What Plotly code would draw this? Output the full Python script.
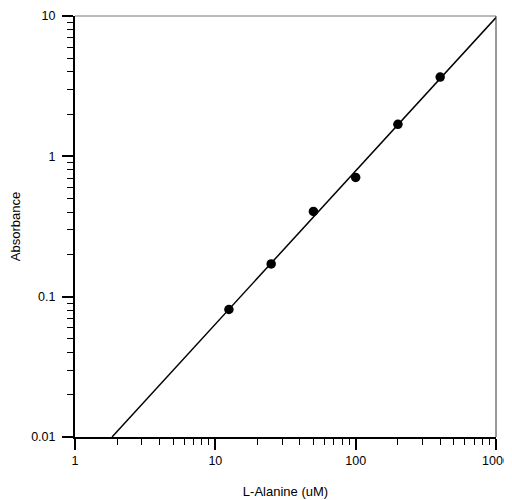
import numpy as np
import plotly.graph_objects as go

# Data
alanine_uM = [12.5, 25, 50, 100, 200, 400]
absorbance = [0.081, 0.171, 0.405, 0.708, 1.69, 3.67]
x_ticks = [1, 10, 100, 1000]
x_ticklabels = ["1", "10", "100", "1000"]
y_ticks = [0.01, 0.1, 1, 10]
y_ticklabels = ["0.01", "0.1", "1", "10"]

# log-log linear fit
slope, intercept = np.polyfit(np.log10(alanine_uM), np.log10(absorbance), 1)
x_start = 10 ** ((np.log10(0.01) - intercept) / slope)
fit_x = np.logspace(np.log10(x_start), np.log10(1000), 50)
fit_y = 10 ** (intercept + slope * np.log10(fit_x))

minor_x = [m * d for d in [1, 10, 100] for m in range(2, 10)]
minor_y = [m * d for d in [0.01, 0.1, 1] for m in range(2, 10)]

fig = go.Figure()
fig.add_trace(go.Scatter(x=fit_x, y=fit_y, mode="lines",
                         line=dict(color="black", width=1.5), showlegend=False))
fig.add_trace(go.Scatter(x=alanine_uM, y=absorbance, mode="markers",
                         marker=dict(color="black", size=9.5), showlegend=False))

font = "Liberation Sans, Arial, sans-serif"
axis_common = dict(
    type="log", showgrid=False, zeroline=False, automargin=False,
    showline=True, linecolor="black", linewidth=2,
    ticks="outside", ticklen=11, tickwidth=1.5, tickcolor="black",
    tickfont=dict(family=font, size=12.5, color="black"),
    ticklabeloverflow="allow",
)
fig.update_xaxes(**axis_common, range=[0, 3], tickvals=x_ticks, ticktext=x_ticklabels,
                 minor=dict(tickvals=minor_x, ticks="outside", ticklen=6,
                            tickwidth=1, tickcolor="black", showgrid=False),
                 title=dict(text="L-Alanine (uM)", font=dict(family=font, size=13, color="black"), standoff=20))
fig.update_yaxes(**axis_common, range=[-2, 1], tickvals=y_ticks, ticktext=y_ticklabels,
                 ticklabelstandoff=4,
                 minor=dict(tickvals=minor_y, ticks="outside", ticklen=6,
                            tickwidth=1, tickcolor="black", showgrid=False),
                 title=dict(text="Absorbance", font=dict(family=font, size=13, color="black"), standoff=12))

# thin top and right frame lines
fig.add_shape(type="line", xref="paper", yref="paper", x0=0, x1=1, y0=1, y1=1,
              line=dict(color="#777777", width=1))
fig.add_shape(type="line", xref="paper", yref="paper", x0=1, x1=1, y0=0, y1=1,
              line=dict(color="#333333", width=1))

fig.update_layout(
    width=504, height=492,
    margin=dict(l=67, r=16, t=8, b=63),
    plot_bgcolor="white", paper_bgcolor="white",
)
fig.write_html("out.html")
